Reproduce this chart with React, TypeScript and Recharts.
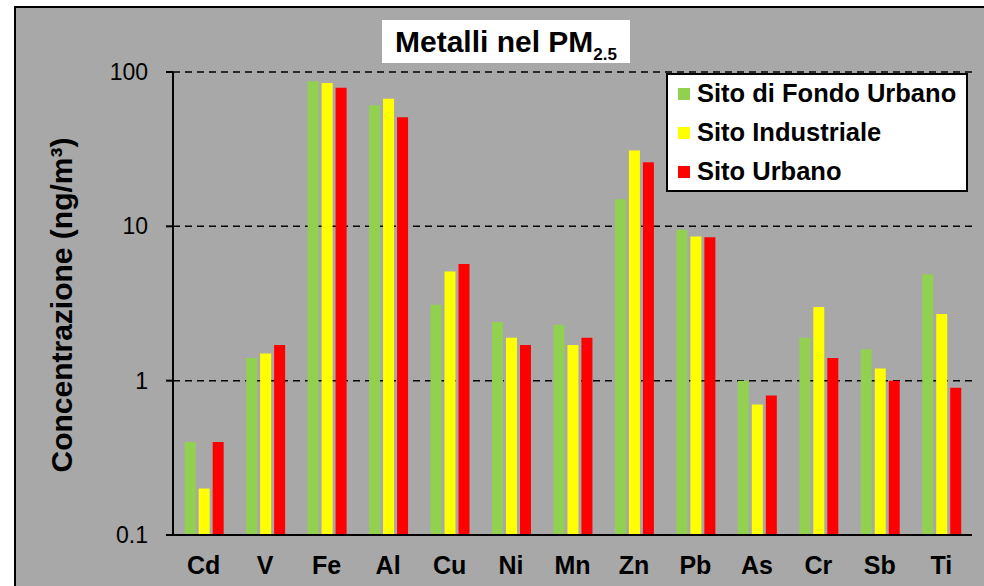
import React from "react";
import { Bar, BarChart, CartesianGrid, Legend, XAxis, YAxis } from "recharts";

const categories = ["Cd", "V", "Fe", "Al", "Cu", "Ni", "Mn", "Zn", "Pb", "As", "Cr", "Sb", "Ti"];
const fondoUrbano = [0.4, 1.4, 87, 61, 3.1, 2.4, 2.3, 15, 9.5, 1.0, 1.9, 1.6, 4.9];
const industriale = [0.2, 1.5, 85, 67, 5.1, 1.9, 1.7, 31, 8.6, 0.7, 3.0, 1.2, 2.7];
const urbano = [0.4, 1.7, 79, 51, 5.7, 1.7, 1.9, 26, 8.5, 0.8, 1.4, 1.0, 0.9];
const yTicks = [0.1, 1, 10, 100];
const yTickLabels = ["0.1", "1", "10", "100"];

const series = [
  { key: "fondo", name: "Sito di Fondo Urbano", color: "#92d050" },
  { key: "industriale", name: "Sito Industriale", color: "#ffff00" },
  { key: "urbano", name: "Sito Urbano", color: "#ff0000" }
];

const data = categories.map((c, i) => ({
  name: c,
  fondo: fondoUrbano[i],
  industriale: industriale[i],
  urbano: urbano[i]
}));

const FONT = '"Liberation Sans", Arial, sans-serif';
const GREY = "#a8a8a8";

const XTick = (props: any) => {
  const { x, y, payload } = props;
  return (
    <text x={x} y={y + 39} textAnchor="middle" fontFamily={FONT} fontSize={25} fontWeight="bold" fill="#000">
      {payload.value}
    </text>
  );
};

const LegendBox = () => (
  <div
    style={{
      width: 302,
      height: 119,
      boxSizing: "border-box",
      background: "#fff",
      border: "2px solid #000",
      paddingLeft: 10
    }}
  >
    <div style={{ position: "relative", top: -1 }}>
      {series.map((s) => (
        <div key={s.key} style={{ display: "flex", alignItems: "center", height: 39 }}>
          <span style={{ width: 12, height: 12, background: s.color, marginRight: 7 }} />
          <span style={{ fontFamily: FONT, fontSize: 25.5, fontWeight: "bold", color: "#000", lineHeight: "39px" }}>
            {s.name}
          </span>
        </div>
      ))}
    </div>
  </div>
);

export default function App() {
  return (
    <div style={{ position: "absolute", left: 0, top: 0, width: 984, height: 586, overflow: "hidden", background: "#fff" }}>
      <div
        style={{
          position: "absolute",
          left: 14,
          top: 6,
          width: 1000,
          height: 600,
          background: GREY,
          borderLeft: "2px solid #000",
          borderTop: "2px solid #000"
        }}
      />
      <div style={{ position: "absolute", left: 0, top: 0 }}>
        <BarChart
          width={984}
          height={586}
          data={data}
          margin={{ top: 72, right: 12, bottom: 11, left: 0 }}
          barCategoryGap="19%"
          barGap={3}
        >
          <CartesianGrid vertical={false} stroke="#000" strokeWidth={1.5} strokeDasharray="7 5" />
          <XAxis
            dataKey="name"
            height={40}
            axisLine={{ stroke: "#000", strokeWidth: 2 }}
            tickLine={false}
            tickSize={0}
            tickMargin={0}
            tick={<XTick />}
            interval={0}
          />
          <XAxis xAxisId="top" orientation="top" height={0} axisLine={{ stroke: "#000", strokeWidth: 1 }} tick={false} tickLine={false} />
          <YAxis
            scale="log"
            domain={[0.1, 100]}
            ticks={yTicks}
            allowDataOverflow
            width={173}
            axisLine={{ stroke: "#000", strokeWidth: 2 }}
            tickLine={{ stroke: "#000", strokeWidth: 2 }}
            tickSize={7}
            tickMargin={18}
            tickFormatter={(v: number) => yTickLabels[yTicks.indexOf(v)] ?? String(v)}
            tick={{ fontFamily: FONT, fontSize: 23, fill: "#000" }}
          />
          <YAxis yAxisId="right" orientation="right" width={0} axisLine={{ stroke: "#000", strokeWidth: 2 }} tick={false} tickLine={false} />
          <Legend
            layout="vertical"
            align="center"
            verticalAlign="middle"
            content={<LegendBox />}
            wrapperStyle={{ left: 666, top: 73, width: 302, height: 119 }}
          />
          {series.map((s) => (
            <Bar key={s.key} dataKey={s.key} name={s.name} fill={s.color} isAnimationActive={false} />
          ))}
        </BarChart>
      </div>
      <div
        style={{
          position: "absolute",
          left: 382,
          top: 20,
          width: 248,
          height: 43,
          background: "#fff",
          textAlign: "center",
          lineHeight: "43px",
          fontFamily: FONT,
          fontSize: 30,
          fontWeight: "bold",
          color: "#000",
          whiteSpace: "nowrap"
        }}
      >
        Metalli nel PM<span style={{ fontSize: 17, verticalAlign: "-8px", lineHeight: 0 }}>2.5</span>
      </div>
      <div
        style={{
          position: "absolute",
          left: 62,
          top: 305,
          transform: "translate(-50%, -50%) rotate(-90deg)",
          fontFamily: FONT,
          fontSize: 30,
          fontWeight: "bold",
          color: "#000",
          whiteSpace: "nowrap"
        }}
      >
        Concentrazione (ng/m³)
      </div>
    </div>
  );
}
